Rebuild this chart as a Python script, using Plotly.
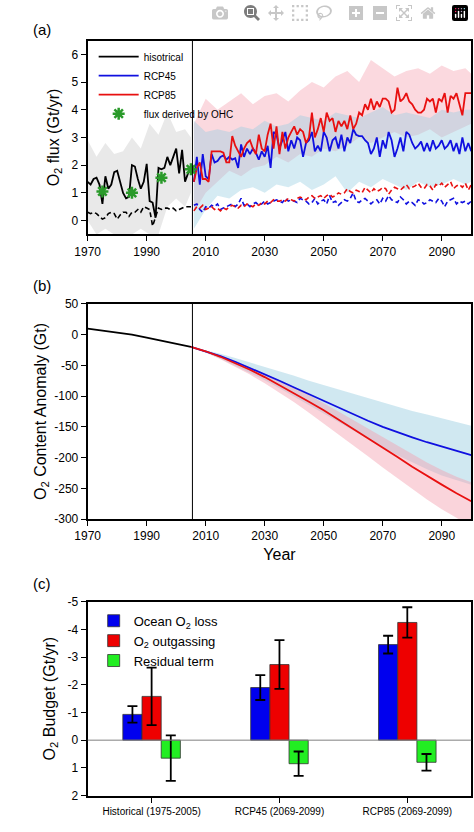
import plotly.graph_objects as go

# ---------- Panel (a) data ----------
hist_years = list(range(1970, 2006))
hist_flux = [1.4,1.3,1.5,1.55,1.3,0.6,1.6,1.15,1.3,1.75,1.8,1.4,1.0,0.8,0.85,2.0,1.95,1.5,1.15,1.4,
             2.05,0.7,0.65,0.1,1.9,1.85,1.9,2.3,2.0,2.3,2.6,1.7,2.55,1.4,1.7,1.9]
hist_dash = [0.3,0.25,0.3,0.25,0.15,0.05,0.1,0.25,0.3,0.25,0.05,0.2,0.3,0.3,0.15,0.3,0.3,0.4,0.3,0.5,
             0.45,0.4,-0.2,0.15,0.45,0.4,0.45,0.45,0.4,0.45,0.35,0.4,0.45,0.5,0.5,0.5]
hist_band_years = list(range(1970, 2006, 3)) + [2005]
hist_band_up = [2.9,2.3,2.8,2.4,2.5,3.0,2.6,3.5,3.1,3.9,3.2,3.3,3.0]
hist_band_lo = [0.0,-0.5,-0.3,-0.5,-0.5,-0.5,-0.3,-0.5,-0.5,0.5,0.8,0.5,1.0]

rcp45_flux = [1.4,2.3,1.3,2.4,1.6,1.5,2.4,2.1,2.15,2.3,
              2.35,2.2,2.3,2.2,2.25,1.9,2.75,2.3,2.6,2.4,
              2.6,2.45,2.2,2.5,2.3,2.7,1.9,3.2,3.1,2.6,
              2.9,3.2,2.5,2.9,2.6,3.0,2.9,2.3,2.8,2.9,
              3.2,2.5,2.7,2.5,3.2,3.0,2.5,2.9,3.0,2.6,
              3.1,2.5,3.0,2.8,3.3,3.1,3.05,3.05,2.9,2.8,
              2.4,2.6,3.0,2.3,2.9,2.6,3.2,2.9,2.3,2.6,
              3.0,2.5,3.2,3.1,2.8,2.6,2.7,2.85,2.5,2.8,
              2.5,2.9,2.6,2.7,2.9,2.6,2.7,2.9,2.5,2.8,
              2.4,3.0,2.5,2.8,2.5]
rcp85_flux = [1.4,1.9,2.1,1.5,1.5,1.4,2.5,2.5,2.5,2.5,
              2.45,2.1,2.1,3.05,2.7,2.5,2.3,2.6,2.8,2.9,
              2.6,2.4,3.1,2.6,2.5,3.1,3.5,2.6,3.4,2.4,
              3.2,2.6,3.0,3.2,3.4,3.1,3.3,3.2,2.8,3.0,
              3.9,3.0,3.3,3.7,3.2,3.9,3.6,3.7,3.2,3.6,
              3.4,3.6,3.3,3.8,3.3,3.5,3.9,3.8,4.2,4.0,
              4.4,4.0,4.3,4.1,4.4,4.4,4.3,3.9,4.0,4.8,
              4.3,4.4,4.6,4.3,4.2,4.0,3.9,3.9,4.0,4.4,
              4.3,4.4,3.9,4.4,4.3,4.6,3.9,4.5,4.4,4.6,
              4.2,3.8,4.6,4.6,4.6]
rcp45_dash = [0.55,0.6,0.4,0.3,0.5,0.45,0.55,0.5,0.6,0.4,
              0.45,0.5,0.55,0.6,0.5,0.6,0.8,0.55,0.6,0.5,
              0.6,0.65,0.55,0.6,0.7,0.6,0.65,0.7,0.75,0.7,
              0.65,0.8,0.7,0.75,0.7,0.65,0.8,0.75,0.7,0.6,
              0.65,0.8,0.6,0.7,0.75,0.6,0.9,0.65,0.7,0.55,
              0.65,0.75,0.7,0.8,1.0,0.7,0.65,0.75,0.8,0.7,
              0.6,0.7,0.75,0.6,0.8,0.7,0.9,0.75,0.7,0.65,
              0.85,0.75,0.6,0.7,0.65,0.55,0.75,0.7,0.6,0.65,
              0.75,0.7,0.65,0.8,0.7,0.5,0.7,0.75,0.8,0.6,
              0.7,0.65,0.7,0.6,0.7]
rcp85_dash = [0.35,0.5,0.45,0.55,0.4,0.45,0.5,0.4,0.45,0.35,
              0.45,0.4,0.5,0.55,0.5,0.45,0.55,0.5,0.6,0.55,
              0.5,0.6,0.55,0.65,0.6,0.7,0.65,0.75,0.7,0.7,
              0.75,0.7,0.8,0.75,0.7,0.8,0.85,0.8,0.75,0.85,
              0.9,0.8,0.85,0.9,0.8,0.9,0.95,0.85,0.9,1.0,
              0.95,1.0,1.15,1.05,1.0,1.1,1.05,1.0,1.2,1.1,
              1.0,1.15,1.05,1.1,1.2,1.15,0.95,1.1,1.2,1.15,
              1.1,1.2,1.3,1.15,1.2,1.25,1.35,1.2,1.15,1.3,
              1.25,1.1,1.3,1.25,1.35,1.2,1.3,1.4,1.15,1.25,
              1.3,1.2,1.35,1.1,1.3]
fut_band_years = list(range(2006, 2101, 4)) + [2100]
r85_band_up = [3.5,4.4,4.0,4.3,4.6,4.2,4.5,4.6,4.3,4.7,5.0,4.8,5.2,5.4,5.0,5.8,5.5,5.2,5.4,5.5,5.3,5.6,5.4,5.5,5.3]
r85_band_lo = [0.3,1.0,1.4,1.8,1.6,1.9,2.0,2.3,2.1,2.4,2.3,2.6,2.5,2.7,3.0,2.8,3.0,3.2,3.0,3.1,3.3,3.0,3.2,3.4,3.5]
r45_band_up = [3.6,3.2,3.3,3.2,3.4,3.3,3.6,3.4,3.5,3.8,3.7,3.6,3.9,3.8,3.7,3.9,4.1,3.8,3.9,3.8,3.7,4.0,3.9,4.0,4.0]
r45_band_lo = [-0.3,0.4,0.9,0.8,1.1,1.2,1.0,1.3,1.2,1.4,1.1,1.3,1.6,1.0,1.4,1.2,1.5,1.3,1.1,1.4,1.2,1.3,1.5,1.3,1.4]
ohc_years = [1975, 1985, 1995, 2005]
ohc_flux = [1.05, 1.0, 1.55, 1.85]

# ---------- Panel (b) data ----------
b_hist_years = [1970,1975,1980,1985,1990,1995,2000,2005]
b_hist = [10,7,4,0,-5,-10,-14,-20]
b_fut_years = list(range(2005, 2101, 5))
b_r45 = [-20,-27,-35,-44,-54,-64,-75,-86,-97,-108,-119,-130,-140,-150,-159,-167,-175,-182,-189,-196]
b_r85 = [-20,-27,-36,-46,-57,-69,-82,-95,-109,-123,-138,-153,-168,-183,-199,-215,-230,-244,-258,-271]
b_r45_up = [-20,-25,-31,-38,-45,-52,-60,-67,-75,-82,-90,-97,-104,-111,-118,-124,-130,-136,-142,-148]
b_r45_lo = [-20,-29,-39,-50,-62,-74,-87,-100,-114,-128,-142,-156,-170,-183,-196,-208,-219,-229,-237,-244]
b_r85_up = [-20,-26,-34,-43,-53,-63,-74,-86,-98,-111,-125,-139,-153,-167,-181,-195,-208,-220,-231,-240]
b_r85_lo = [-20,-29,-40,-52,-65,-79,-94,-110,-127,-144,-162,-180,-198,-216,-234,-251,-268,-284,-298,-312]

# ---------- Panel (c) data ----------
c_cats = ["Historical (1975-2005)", "RCP45 (2069-2099)", "RCP85 (2069-2099)"]
c_loss = [-0.93, -1.9, -3.45]
c_loss_err = [0.3, 0.45, 0.32]
c_out = [-1.58, -2.73, -4.25]
c_out_err = [1.04, 0.88, 0.55]
c_res = [0.65, 0.85, 0.8]
c_res_err = [0.82, 0.44, 0.3]

FONT = "Liberation Sans, Arial, sans-serif"
fig = go.Figure()

def band(x, up, lo, color, xa, ya):
    fig.add_trace(go.Scatter(x=x + x[::-1], y=up + lo[::-1], fill="toself", fillcolor=color,
                             line=dict(width=0), mode="lines", showlegend=False, hoverinfo="skip",
                             xaxis=xa, yaxis=ya))

DASH = "5px,3px"
# panel a
band(hist_band_years, hist_band_up, hist_band_lo, "rgba(200,200,200,0.4)", "x", "y")
band(fut_band_years, r85_band_up, r85_band_lo, "rgba(245,160,175,0.4)", "x", "y")
band(fut_band_years, r45_band_up, r45_band_lo, "rgba(150,205,225,0.4)", "x", "y")
fy = lambda arr: list(range(2006, 2006 + len(arr)))
fig.add_trace(go.Scatter(x=hist_years, y=hist_dash, mode="lines", line=dict(color="black", width=1.6, dash=DASH), showlegend=False))
fig.add_trace(go.Scatter(x=fy(rcp45_dash), y=rcp45_dash, mode="lines", line=dict(color="#1010e0", width=1.6, dash=DASH), showlegend=False))
fig.add_trace(go.Scatter(x=fy(rcp85_dash), y=rcp85_dash, mode="lines", line=dict(color="#e81010", width=1.6, dash=DASH), showlegend=False))
fig.add_trace(go.Scatter(x=hist_years, y=hist_flux, mode="lines", line=dict(color="black", width=1.8), name="hisotrical", legend="legend"))
fig.add_trace(go.Scatter(x=fy(rcp45_flux), y=rcp45_flux, mode="lines", line=dict(color="#1010e0", width=1.8), name="RCP45", legend="legend"))
fig.add_trace(go.Scatter(x=fy(rcp85_flux), y=rcp85_flux, mode="lines", line=dict(color="#e81010", width=1.8), name="RCP85", legend="legend"))
fig.add_trace(go.Scatter(x=ohc_years, y=ohc_flux, mode="markers", marker=dict(symbol="asterisk-open", size=10, color="#2a9a2a", line=dict(color="#2a9a2a", width=2.5)),
                         name="flux derived by OHC", legend="legend"))

# panel b
band(b_fut_years, b_r45_up, b_r45_lo, "rgba(150,205,225,0.45)", "x2", "y2")
band(b_fut_years, b_r85_up, b_r85_lo, "rgba(245,160,175,0.45)", "x2", "y2")
fig.add_trace(go.Scatter(x=b_hist_years, y=b_hist, mode="lines", line=dict(color="black", width=1.8), showlegend=False, xaxis="x2", yaxis="y2"))
fig.add_trace(go.Scatter(x=b_fut_years, y=b_r45, mode="lines", line=dict(color="#1010e0", width=1.8), showlegend=False, xaxis="x2", yaxis="y2"))
fig.add_trace(go.Scatter(x=b_fut_years, y=b_r85, mode="lines", line=dict(color="#e81010", width=1.8), showlegend=False, xaxis="x2", yaxis="y2"))

# panel c
ebar = lambda e: dict(type="data", array=e, color="black", thickness=1.8, width=5)
for vals, err, col, nm in [(c_loss, c_loss_err, "#0000ee", "Ocean O<sub>2</sub> loss"),
                           (c_out, c_out_err, "#ee0000", "O<sub>2</sub> outgassing"),
                           (c_res, c_res_err, "#22ee22", "Residual term")]:
    fig.add_trace(go.Bar(x=[0, 1, 2], y=vals, error_y=ebar(err), marker=dict(color=col, line=dict(color="#333", width=0.8)),
                         name=nm, xaxis="x3", yaxis="y3", legend="legend2"))

ax = dict(showline=True, mirror=True, linecolor="black", linewidth=2, ticks="outside", ticklen=5,
          tickcolor="black", showgrid=False, zeroline=False, tickfont=dict(size=12, color="black"))
yrs = [1970, 1990, 2010, 2030, 2050, 2070, 2090]
fig.update_layout(
    width=474, height=832, margin=dict(l=0, r=0, t=0, b=0), plot_bgcolor="white", paper_bgcolor="white",
    font=dict(family=FONT, color="black"), barmode="group", bargap=0.55, bargroupgap=0,
    xaxis=dict(ax, domain=[0.162, 0.994], range=[1970, 2100], tickvals=yrs, anchor="y"),
    yaxis=dict(ax, domain=[0.722, 0.959], range=[-0.5, 6.5], tickvals=[0,1,2,3,4,5,6],
               title=dict(text="O<sub>2</sub> flux (Gt/yr)", font=dict(size=16), standoff=8), anchor="x"),
    xaxis2=dict(ax, domain=[0.162, 0.994], range=[1970, 2100], tickvals=yrs, anchor="y2",
                title=dict(text="Year", font=dict(size=16), standoff=6)),
    yaxis2=dict(ax, domain=[0.374, 0.637], range=[-300, 50], tickvals=list(range(-300, 51, 50)),
                ticktext=[str(v) for v in range(-300, 51, 50)],
                title=dict(text="O<sub>2</sub> Content Anomaly (Gt)", font=dict(size=16), standoff=4), anchor="x2"),
    xaxis3=dict(ax, domain=[0.162, 0.994], range=[-0.5, 2.5], tickvals=[0, 1, 2], ticktext=c_cats,
                tickfont=dict(size=10, color="black"), anchor="y3"),
    yaxis3=dict(ax, domain=[0.036, 0.273], range=[2, -5], tickvals=list(range(-5, 3)),
                ticktext=[str(v) for v in range(-5, 3)],
                title=dict(text="O<sub>2</sub> Budget (Gt/yr)", font=dict(size=16), standoff=8), anchor="x3"),
    legend=dict(x=0.175, y=0.957, xanchor="left", yanchor="top", bgcolor="rgba(0,0,0,0)",
                font=dict(size=10), tracegroupgap=0, itemwidth=40),
    legend2=dict(x=0.175, y=0.268, xanchor="left", yanchor="top", bgcolor="rgba(0,0,0,0)",
                 font=dict(size=13), tracegroupgap=0, itemwidth=30),
    shapes=[dict(type="line", xref="x", yref="paper", x0=2005.5, x1=2005.5, y0=0.722, y1=0.959, line=dict(color="black", width=1)),
            dict(type="line", xref="x2", yref="paper", x0=2005.5, x1=2005.5, y0=0.374, y1=0.637, line=dict(color="black", width=1)),
            dict(type="line", xref="paper", yref="y3", x0=0.162, x1=0.994, y0=0, y1=0, line=dict(color="gray", width=1))],
    annotations=[dict(text=t, x=0.04, y=yy, xref="paper", yref="paper", showarrow=False, font=dict(size=15), xanchor="left")
                 for t, yy in [("(a)", 0.985), ("(b)", 0.66), ("(c)", 0.283)]],
)
fig.write_html("out.html", post_script="document.body.style.margin='0';document.body.style.overflow='hidden';")
